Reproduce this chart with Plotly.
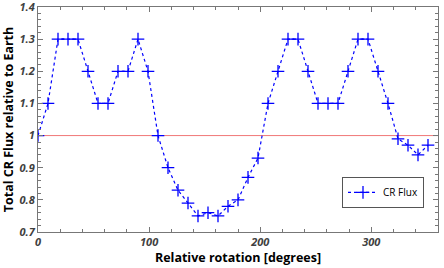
import plotly.graph_objects as go

rotation = [0, 9, 18, 27, 36, 45, 54, 63, 72, 81, 90, 99, 108, 117, 126, 135, 144, 153, 162, 171,
            180, 189, 198, 207, 216, 225, 234, 243, 252, 261, 270, 279, 288, 297, 306, 315, 324, 333, 342, 351]
cr_flux = [1.0, 1.1, 1.3, 1.3, 1.3, 1.2, 1.1, 1.1, 1.2, 1.2, 1.3, 1.2, 1.0, 0.9, 0.83, 0.79, 0.75, 0.76, 0.75, 0.78,
           0.80, 0.87, 0.93, 1.1, 1.2, 1.3, 1.3, 1.2, 1.1, 1.1, 1.1, 1.2, 1.3, 1.3, 1.2, 1.1, 0.99, 0.97, 0.94, 0.97]
reference_level = 1.0
x_ticks = [0, 100, 200, 300]
y_ticks = [0.7, 0.8, 0.9, 1.0, 1.1, 1.2, 1.3, 1.4]
y_tick_labels = ["0.7", "0.8", "0.9", "1", "1.1", "1.2", "1.3", "1.4"]

fig = go.Figure()
fig.add_trace(go.Scatter(
    x=rotation, y=cr_flux, name="CR Flux", mode="lines+markers",
    line=dict(color="#0000ff", width=1.2, dash="dot"),
    marker=dict(symbol="cross-thin", size=9, line=dict(color="#0000ff", width=1.3)),
))
fig.add_shape(type="line", xref="paper", x0=0, x1=1, yref="y", y0=reference_level, y1=reference_level,
              line=dict(color="#f07878", width=1), layer="below")

tickfont = dict(family="Open Sans", size=11, color="#404040", weight="bold", style="italic")
titlefont = dict(family="Open Sans", size=12.5, color="#000000", weight="bold")

fig.update_layout(
    width=444, height=268,
    margin=dict(l=38, r=6, t=7, b=36, autoexpand=False),
    paper_bgcolor="white", plot_bgcolor="white",
    showlegend=True,
    legend=dict(x=0.965, y=0.245, xanchor="right", yanchor="top", bordercolor="#555555", borderwidth=1,
                bgcolor="white", font=dict(family="Open Sans", size=10, color="#000000"),
                itemwidth=30, tracegroupgap=0),
)
fig.update_xaxes(
    range=[0, 360], tickvals=x_ticks, ticks="inside", ticklen=5, tickcolor="#777777",
    showline=True, linecolor="#777777", linewidth=1, mirror="ticks", showgrid=False, zeroline=False,
    minor=dict(dtick=20, ticks="inside", ticklen=3, tickcolor="#777777", showgrid=False),
    tickfont=tickfont, automargin=False, ticklabeloverflow="allow",
    title=dict(text="Relative rotation [degrees]", font=titlefont, standoff=2),
)
fig.update_yaxes(
    range=[0.7, 1.4], tickvals=y_ticks, ticktext=y_tick_labels, ticks="inside", ticklen=5, tickcolor="#777777",
    showline=True, linecolor="#777777", linewidth=1, mirror="ticks", showgrid=False, zeroline=False,
    minor=dict(dtick=0.02, ticks="inside", ticklen=3, tickcolor="#777777", showgrid=False),
    tickfont=tickfont, automargin=False, ticklabeloverflow="allow",
    title=dict(text="Total CR Flux relative to Earth", font=titlefont, standoff=4),
)
fig.write_html("out.html", config={"displayModeBar": False},
               post_script="document.body.style.margin='0';document.body.style.padding='0';")
